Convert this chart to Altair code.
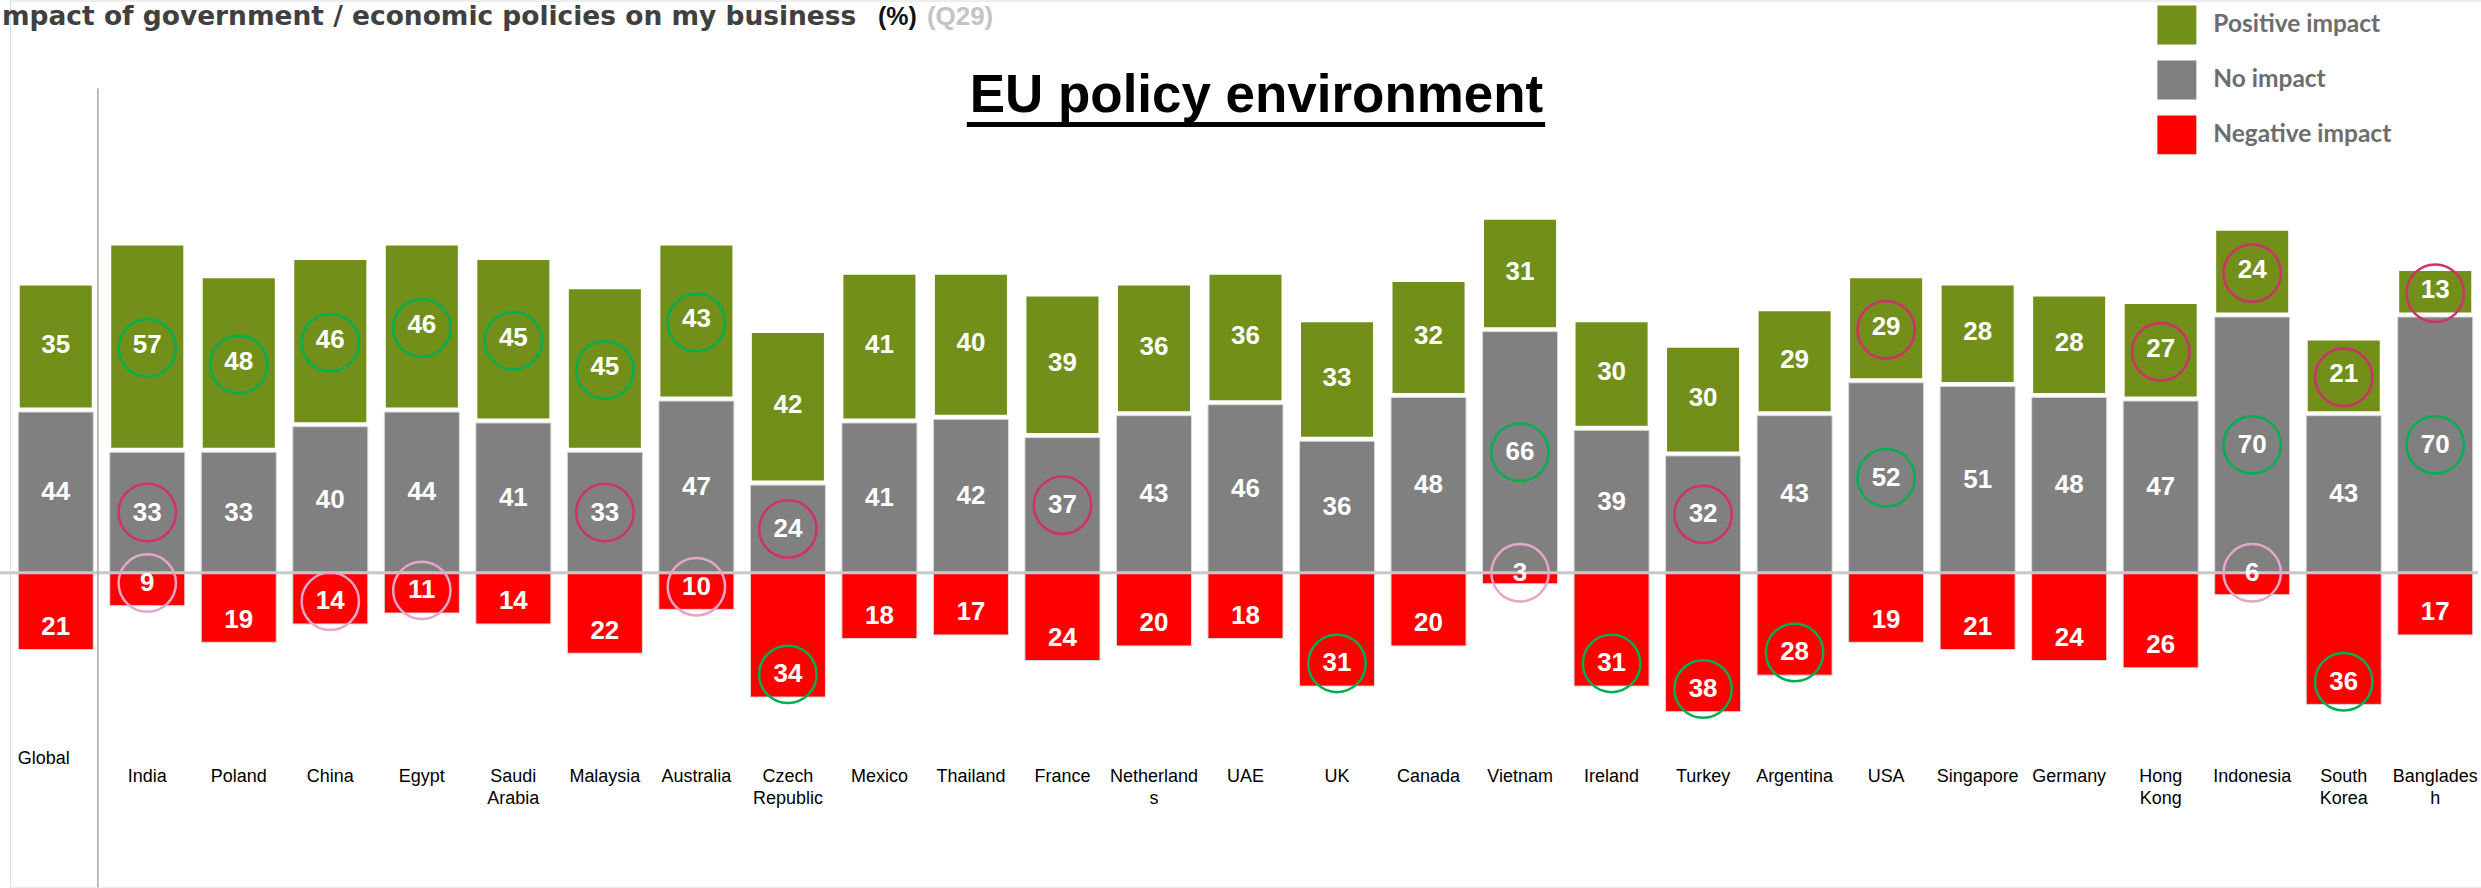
import altair as alt
import pandas as pd

categories = ["Global", "India", "Poland", "China", "Egypt", "Saudi\nArabia", "Malaysia",
              "Australia", "Czech\nRepublic", "Mexico", "Thailand", "France", "Netherland\ns",
              "UAE", "UK", "Canada", "Vietnam", "Ireland", "Turkey", "Argentina", "USA",
              "Singapore", "Germany", "Hong\nKong", "Indonesia", "South\nKorea", "Banglades\nh"]
positive = [35, 57, 48, 46, 46, 45, 45, 43, 42, 41, 40, 39, 36, 36, 33, 32, 31, 30, 30, 29, 29, 28, 28, 27, 24, 21, 13]
no_impact = [44, 33, 33, 40, 44, 41, 33, 47, 24, 41, 42, 37, 43, 46, 36, 48, 66, 39, 32, 43, 52, 51, 48, 47, 70, 43, 70]
negative = [21, 9, 19, 14, 11, 14, 22, 10, 34, 18, 17, 24, 20, 18, 31, 20, 3, 31, 38, 28, 19, 21, 24, 26, 6, 36, 17]

series_names = ["Positive impact", "No impact", "Negative impact"]
series_colors = ["#718f19", "#808080", "#ff0000"]

circle_green = [("India", "Positive impact"), ("Poland", "Positive impact"), ("China", "Positive impact"),
                ("Egypt", "Positive impact"), ("Saudi\nArabia", "Positive impact"), ("Malaysia", "Positive impact"),
                ("Australia", "Positive impact"), ("Czech\nRepublic", "Negative impact"), ("Vietnam", "No impact"),
                ("UK", "Negative impact"), ("Ireland", "Negative impact"), ("Turkey", "Negative impact"),
                ("Argentina", "Negative impact"), ("USA", "No impact"), ("Indonesia", "No impact"),
                ("South\nKorea", "Negative impact"), ("Banglades\nh", "No impact")]
circle_magenta = [("India", "No impact"), ("Malaysia", "No impact"), ("Czech\nRepublic", "No impact"),
                  ("France", "No impact"), ("Turkey", "No impact"), ("USA", "Positive impact"),
                  ("Hong\nKong", "Positive impact"), ("Indonesia", "Positive impact"),
                  ("South\nKorea", "Positive impact"), ("Banglades\nh", "Positive impact")]
circle_pink = [("India", "Negative impact"), ("China", "Negative impact"), ("Egypt", "Negative impact"),
               ("Australia", "Negative impact"), ("Vietnam", "Negative impact"), ("Indonesia", "Negative impact")]
circle_colors = {"green": "#00b050", "magenta": "#d0306e", "pink": "#e4a6c9"}

subtitle_main = "mpact of government / economic policies on my business"
subtitle_pct = "(%)"
subtitle_q = "(Q29)"
title_text = "EU policy environment"

rows = []
for i, c in enumerate(categories):
    p, n, g = positive[i], no_impact[i], negative[i]
    rows.append(dict(category=c, series="Positive impact", value=p, y0=n, y1=n + p, ly=n + p / 2))
    rows.append(dict(category=c, series="No impact", value=n, y0=0, y1=n, ly=n / 2))
    rows.append(dict(category=c, series="Negative impact", value=g, y0=0, y1=-g, ly=-max(g - 6.2, 0)))
df = pd.DataFrame(rows)

circ_rows = []
for name, lst in [("green", circle_green), ("magenta", circle_magenta), ("pink", circle_pink)]:
    for c, s in lst:
        r = df[(df.category == c) & (df.series == s)].iloc[0]
        circ_rows.append(dict(category=c, series=s, ly=r.ly, col=circle_colors[name]))
circ_df = pd.DataFrame(circ_rows)

W, H = 2474, 888
yscale = alt.Scale(domain=[-86.1, 156.6], nice=False, zero=False)

xenc = alt.X("category:N", sort=categories,
             scale=alt.Scale(paddingInner=0.18, paddingOuter=0.09),
             axis=alt.Axis(title=None, orient="bottom", offset=-131, domain=False, ticks=False,
                           tickSize=0, labelPadding=20, labelAngle=0, labelFont="Liberation Sans",
                           labelFontSize=18, labelColor="black", labelBaseline="middle",
                           labelLineHeight=22, labelLimit=0,
                           labelExpr="datum.label == 'Global' ? '' : split(datum.label, '\\n')"))

color = alt.Color("series:N", scale=alt.Scale(domain=series_names, range=series_colors),
                  legend=alt.Legend(title=None, orient="none", legendX=2150, legendY=5,
                                    direction="vertical", symbolType="square", symbolSize=1521,
                                    symbolStrokeWidth=0, symbolOpacity=1, labelFont="Lato",
                                    labelFontWeight="bold", labelFontSize=24.5, labelColor="#6d6d6d",
                                    labelOffset=17, rowPadding=16, padding=0, labelLimit=0))

base = alt.Chart(df)
yenc = alt.Y("y0:Q", scale=yscale, axis=None)
bars_main = base.transform_filter(alt.datum.series != "Positive impact").mark_bar(
    stroke="#dadada", strokeWidth=1).encode(x=xenc, y=yenc, y2="y1:Q", color=color)
bars_pos = base.transform_filter(alt.datum.series == "Positive impact").mark_bar(
    stroke="white", strokeWidth=3, yOffset=-3).encode(x=xenc, y=yenc, y2="y1:Q", color=color)

zero_line = alt.Chart(pd.DataFrame({"z": [0]})).mark_rule(color="#c8c8c8", strokeWidth=3).encode(
    y=alt.Y("z:Q", scale=yscale, axis=None), x=alt.value(-10), x2=alt.value(2471))

vline = alt.Chart(pd.DataFrame({"z": [0]})).mark_rule(color="#a6a6a6", strokeWidth=1.5).encode(
    x=alt.value(88), y=alt.value(88), y2=alt.value(888))

label_style = dict(font="Liberation Sans", fontWeight="bold", fontSize=26, color="white",
                   baseline="middle")
labels_main = base.transform_filter(alt.datum.series != "Positive impact").mark_text(
    **label_style).encode(
    x=xenc, y=alt.Y("ly:Q", scale=yscale, axis=None), text=alt.Text("value:Q", format="d"))
labels_pos = base.transform_filter(alt.datum.series == "Positive impact").mark_text(
    dy=-3, **label_style).encode(
    x=xenc, y=alt.Y("ly:Q", scale=yscale, axis=None), text=alt.Text("value:Q", format="d"))

circles = alt.Chart(circ_df).mark_point(shape="circle", filled=False, size=3300, strokeWidth=2.5,
                                        opacity=1).encode(
    x=xenc, y=alt.Y("ly:Q", scale=yscale, axis=None), stroke=alt.Stroke("col:N", scale=None))

global_label = base.transform_filter(
    (alt.datum.category == "Global") & (alt.datum.series == "No impact")).mark_text(
    font="Liberation Sans", fontSize=18, color="black", baseline="middle", dx=-12).encode(
    x=xenc, y=alt.value(759), text="category:N")

sub1 = alt.Chart(pd.DataFrame({"t": [subtitle_main]})).mark_text(
    font="DejaVu Sans", fontWeight="bold", fontSize=26.5, color="#404040", align="left",
    baseline="alphabetic").encode(x=alt.value(-8), y=alt.value(24), text="t:N")
sub2 = alt.Chart(pd.DataFrame({"t": [subtitle_pct]})).mark_text(
    font="Liberation Sans", fontWeight="bold", fontSize=25, color="#111111", align="left",
    baseline="alphabetic").encode(x=alt.value(869), y=alt.value(24), text="t:N")
sub3 = alt.Chart(pd.DataFrame({"t": [subtitle_q]})).mark_text(
    font="Liberation Sans", fontWeight="bold", fontSize=26, color="#c4c4c4", align="left",
    baseline="alphabetic").encode(x=alt.value(918), y=alt.value(24), text="t:N")

title = alt.Chart(pd.DataFrame({"t": [title_text]})).mark_text(
    font="Liberation Sans", fontWeight="bold", fontSize=53, color="black", align="center",
    baseline="alphabetic").encode(x=alt.value(1248), y=alt.value(112), text="t:N")
underline = alt.Chart(pd.DataFrame({"z": [0]})).mark_rule(color="black", strokeWidth=5).encode(
    x=alt.value(958), x2=alt.value(1537), y=alt.value(124))

chart = alt.layer(bars_main, bars_pos, zero_line, vline, labels_main, labels_pos, circles,
                  global_label, sub1, sub2, sub3, title, underline).properties(
    width=W, height=H,
    autosize=alt.AutoSizeParams(type="none"),
    padding={"left": 10, "top": 0, "right": 0, "bottom": 0},
).configure_view(stroke=None).configure(background="white")

chart.save("out.html", embed_options={"renderer": "svg", "actions": False})
